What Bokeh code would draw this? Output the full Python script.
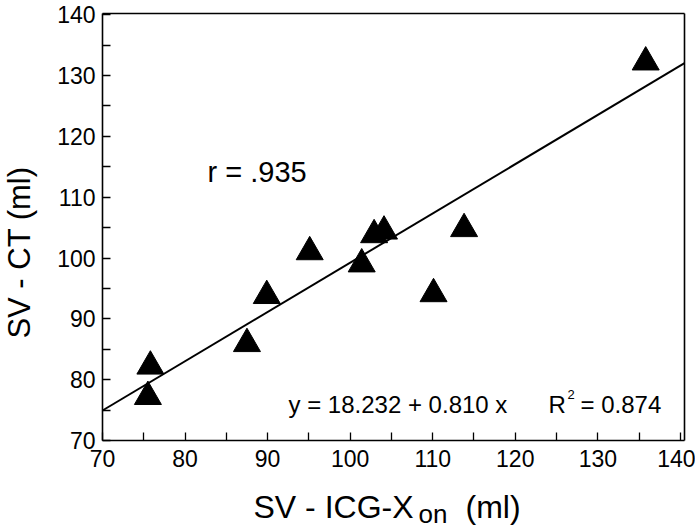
import numpy as np
from bokeh.plotting import figure
from bokeh.models import Label, Range1d, FixedTicker, LinearAxis
from bokeh.embed import file_html
from bokeh.resources import INLINE

# ---- data ----
sv_icg_xon = [75.5, 75.8, 87.5, 89.9, 95.1, 101.4, 102.9, 104.1, 110.1, 113.8, 135.8]
sv_ct      = [77.2, 82.2, 85.9, 93.8, 101.0, 99.0, 103.8, 104.4, 94.1, 104.8, 132.2]
intercept = 18.232
slope = 0.810
r_text = "r = .935"
eq_text = "y = 18.232 + 0.810 x"
r2_value = "0.874"
x_major = [70, 80, 90, 100, 110, 120, 130, 140]
x_minor = [75, 85, 95, 105, 115, 125, 135]
y_major = [70, 80, 90, 100, 110, 120, 130, 140]
y_minor = [75, 85, 95, 105, 115, 125, 135]
x_lim = (70, 140.5)
y_lim = (70, 140.2)

# ---- layout (pixels of the canvas) ----
W, H = 695, 530
BOX_L, BOX_R, BOX_T, BOX_B = 102, 684, 13, 440
FONT = "Liberation Sans"
BASELINE_FIX = 0.37  # renderer places "alphabetic" text about this many ems low

# ranges such that the axis box lands at the pixel box above, frame = whole canvas
sx = (BOX_R - BOX_L) / (x_lim[1] - x_lim[0])
sy = (BOX_B - BOX_T) / (y_lim[1] - y_lim[0])
x_range = Range1d(x_lim[0] - BOX_L / sx, x_lim[1] + (W - BOX_R) / sx)
y_range = Range1d(y_lim[0] - (H - BOX_B) / sy, y_lim[1] + BOX_T / sy)

p = figure(width=W, height=H, output_backend="svg", toolbar_location=None,
           x_range=x_range, y_range=y_range, x_axis_type=None, y_axis_type=None,
           min_border=0)
p.min_border_left = p.min_border_right = p.min_border_top = p.min_border_bottom = 0
p.background_fill_color = "white"
p.border_fill_color = "white"
p.outline_line_color = None
p.xgrid.visible = False
p.ygrid.visible = False


def styled_axis(loc, bounds, major, minor, standoff):
    ax = LinearAxis(fixed_location=loc, bounds=bounds,
                    ticker=FixedTicker(ticks=major, minor_ticks=minor))
    ax.major_tick_in = 8
    ax.major_tick_out = 0
    ax.minor_tick_in = 8
    ax.minor_tick_out = 0
    ax.axis_line_width = 1.6
    ax.axis_line_color = "black"
    ax.major_tick_line_width = 1.3
    ax.minor_tick_line_width = 1.3
    ax.major_tick_line_color = "black"
    ax.minor_tick_line_color = "black"
    ax.major_label_text_font = FONT
    ax.major_label_text_font_size = "23px"
    ax.major_label_text_color = "black"
    ax.major_label_standoff = standoff
    return ax


p.add_layout(styled_axis(y_lim[0], x_lim, x_major, x_minor, 9), "below")
p.add_layout(styled_axis(x_lim[0], y_lim, y_major, y_minor, 7), "left")
# closing edges of the box (no ticks)
p.add_layout(styled_axis(y_lim[1], x_lim, [], [], 0), "above")
p.add_layout(styled_axis(x_lim[1], y_lim, [], [], 0), "right")

# regression line across the axis box
xs = np.array(x_lim)
p.line(xs, intercept + slope * xs, line_color="black", line_width=2)

# data points
p.scatter(sv_icg_xon, sv_ct, marker="triangle", size=27,
          fill_color="black", line_color="black")


def lab(text, x, y, size, rotated=False, **kw):
    # x, y: canvas pixels from the top-left corner; y (or x when rotated) = baseline
    fix = BASELINE_FIX * size
    if rotated:
        x = x - fix
        kw.update(angle=np.pi / 2, text_align="center")
    else:
        y = y - fix
    p.add_layout(Label(x=x, y=H - y, x_units="screen", y_units="screen", text=text,
                       text_font=FONT, text_font_size=f"{size}px", text_color="black",
                       text_baseline="alphabetic", **kw))


lab(r_text, 207, 182, 29)
lab(eq_text, 288, 413, 24)
lab("R", 548, 413, 24)
lab("2", 567, 399, 13)
lab("= " + r2_value, 580, 413, 24)

# axis titles
lab("SV - ICG-X", 253, 518, 32)
lab("on", 418, 523, 26)
lab("(ml)", 465, 518, 32)
lab("SV - CT (ml)", 30, 252, 31, rotated=True)

open("out.html", "w").write(file_html(p, INLINE))
